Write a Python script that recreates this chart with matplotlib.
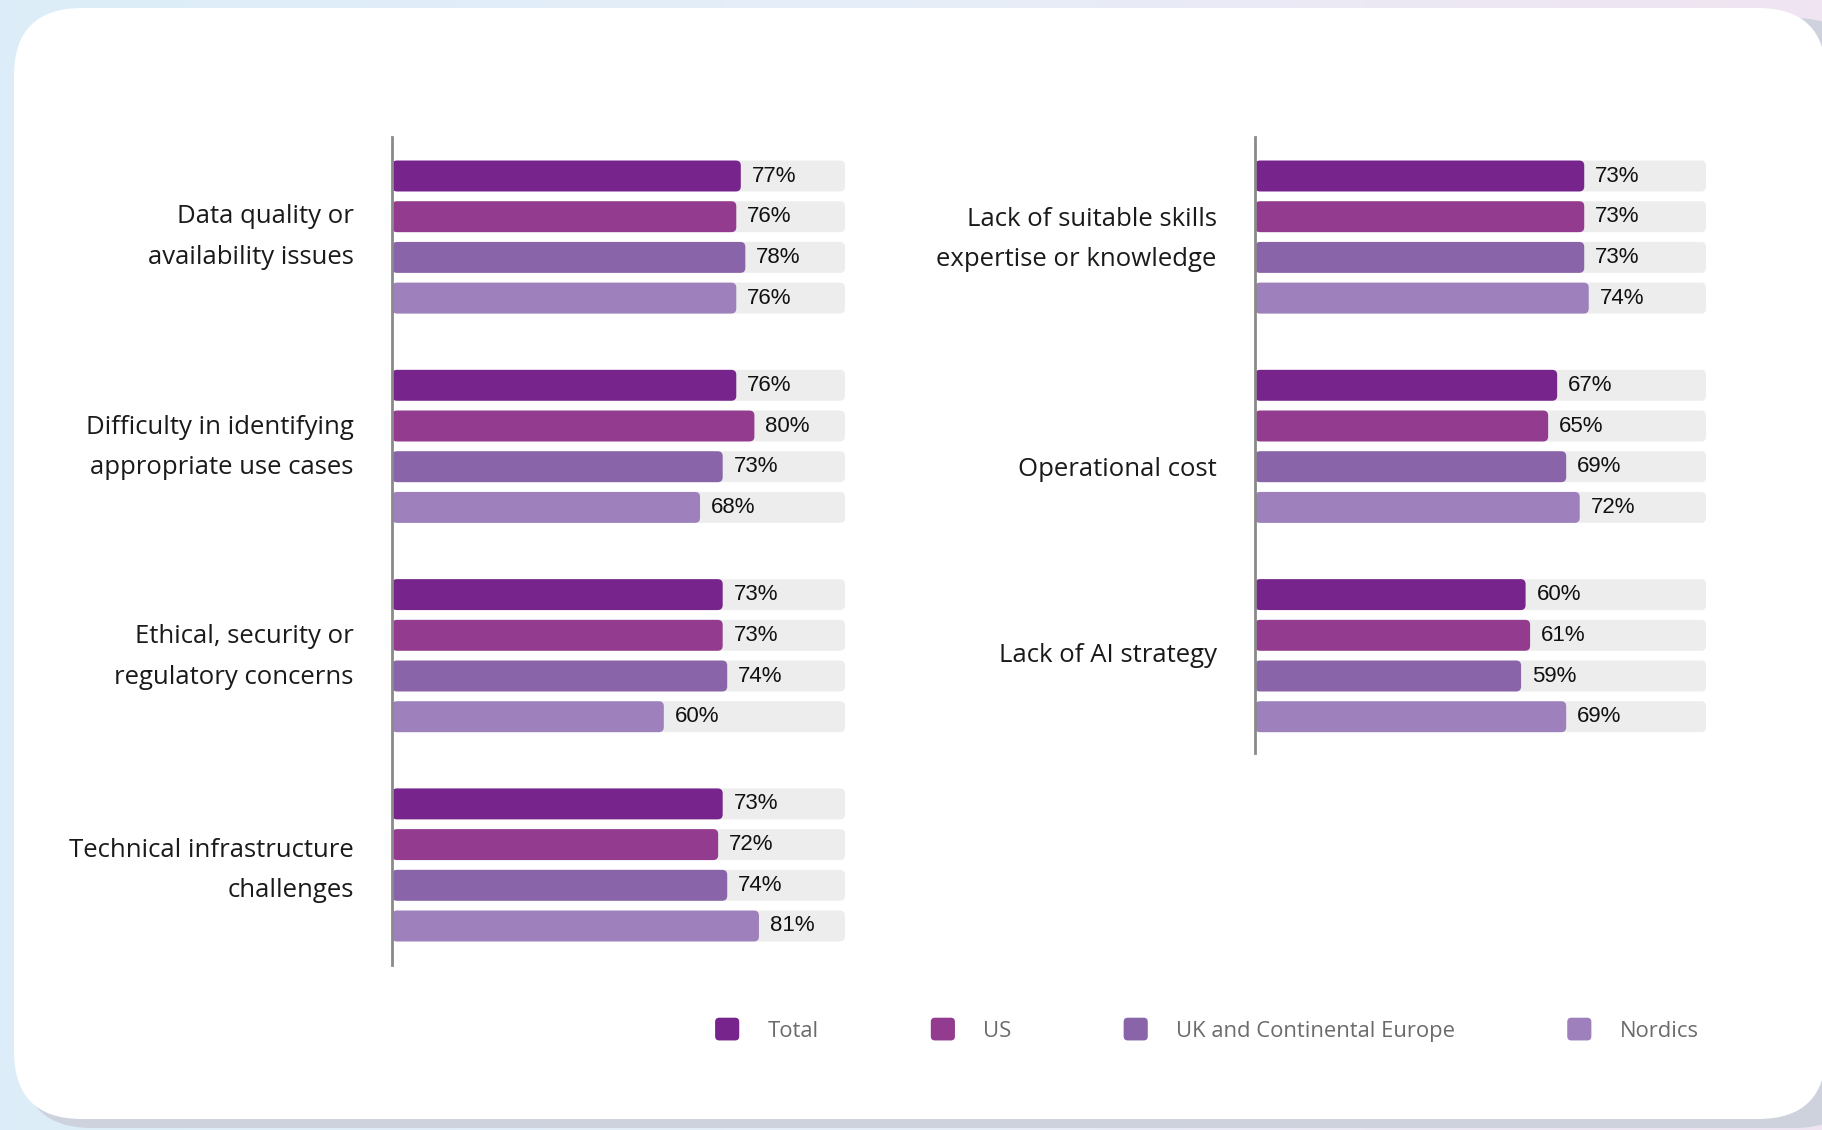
import numpy as np
import matplotlib.pyplot as plt
from matplotlib.patches import FancyBboxPatch
from matplotlib.legend_handler import HandlerPatch
from matplotlib.colors import LinearSegmentedColormap

series = ['Total', 'US', 'UK and Continental Europe', 'Nordics']
colors = ['#77258c', '#933b8f', '#8a64a8', '#9d80bc']

left_cats = ['Data quality or\navailability issues',
             'Difficulty in identifying\nappropriate use cases',
             'Ethical, security or\nregulatory concerns',
             'Technical infrastructure\nchallenges']
left_vals = [[77, 76, 78, 76],
             [76, 80, 73, 68],
             [73, 73, 74, 60],
             [73, 72, 74, 81]]

right_cats = ['Lack of suitable skills\nexpertise or knowledge',
              'Operational cost',
              'Lack of AI strategy']
right_vals = [[73, 73, 73, 74],
              [67, 65, 69, 72],
              [60, 61, 59, 69]]

W, H = 1822, 1130
fig = plt.figure(figsize=(W / 100, H / 100), dpi=100)

# background gradient + card
bg = fig.add_axes([0, 0, 1, 1], zorder=-10)
bg.set_xlim(0, W)
bg.set_ylim(H, 0)
bg.axis('off')
cmap = LinearSegmentedColormap.from_list('bg', ['#dcedf9', '#e6eef8', '#f0e4f1'])
grad = np.linspace(0, 1, 256).reshape(1, -1)
bg.imshow(grad, cmap=cmap, extent=[0, W, H, 0], aspect='auto')
bg.add_patch(FancyBboxPatch((22, 18), W + 20, 1110, boxstyle='round,pad=0,rounding_size=70',
                            fc='#cdd2dd', ec='none'))
bg.add_patch(FancyBboxPatch((14, 8), W - 10, 1111, boxstyle='round,pad=0,rounding_size=68',
                            fc='white', ec='none'))

PX = 40.7          # bar pitch in px
GROUP = 209.3 / PX  # group pitch in bar units
first_c = 176       # centre of first bar (px)
top_px = 137
ytop = (top_px - first_c) / PX


def fig_rect(x0, x1, y0, y1):
    return [x0 / W, 1 - y1 / H, (x1 - x0) / W, (y1 - y0) / H]


def rounded(ax, bars, r_px=5):
    # swap plain barh rectangles for rounded ones of the same extent
    p0 = ax.transData.transform((0, 0))
    p1 = ax.transData.transform((1, 1))
    xu = abs(p1[0] - p0[0])
    yu = abs(p1[1] - p0[1])
    r = r_px / xu
    asp = (r_px / yu) / r
    for b in bars:
        b.set_visible(False)
        ax.add_patch(FancyBboxPatch(b.get_xy(), b.get_width(), b.get_height(),
                                    boxstyle=f'round,pad=0,rounding_size={r}',
                                    mutation_aspect=asp, fc=b.get_facecolor(),
                                    ec='none', zorder=b.get_zorder()))


def panel(x0, x1, bottom_px, cats, vals, label_off):
    ax = fig.add_axes(fig_rect(x0, x1, top_px, bottom_px))
    ax.set_xlim(0, 100)
    ax.set_ylim((bottom_px - first_c) / PX, ytop)
    ax.set_facecolor('none')
    for s in ['top', 'right', 'bottom']:
        ax.spines[s].set_visible(False)
    ax.spines['left'].set_color('#8a8a8a')
    ax.spines['left'].set_linewidth(2)
    ax.set_xticks([])
    ax.set_yticks([])
    vals = np.array(vals)
    for g in range(len(cats)):
        ys = g * GROUP + np.arange(4)
        track = ax.barh(ys, 100, height=0.76, color='#ededed', zorder=1)
        rounded(ax, track)
        bars = ax.barh(ys, vals[g], height=0.76, color=colors, zorder=2)
        rounded(ax, bars)
        for y, v in zip(ys, vals[g]):
            ax.text(v + 2.4, y, f'{v}%', va='center', ha='left', fontsize=16,
                    family='Liberation Sans', color='#111111', zorder=3)
        ax.annotate(cats[g], xy=(0, g * GROUP + 1.5), xycoords=('axes fraction', 'data'),
                    xytext=(-27.5, label_off[g]), textcoords='offset points',
                    ha='right', va='center', fontsize=18.5, family='Open Sans',
                    color='#1a1a1a', linespacing=1.8)
    return ax, bars


axl, bars_l = panel(392, 845, 965, left_cats, left_vals, [0, -1, -1, -4])
axr, _ = panel(1255, 1706, 753, right_cats, right_vals, [-2, -16.5, 0])


class RoundHandler(HandlerPatch):
    def create_artists(self, legend, orig, xd, yd, w, h, fs, trans):
        p = FancyBboxPatch((-xd, -yd - 0.15 * h), w, h * 1.3,
                           boxstyle='round,pad=0,rounding_size=3',
                           fc=orig.get_facecolor(), ec='none', transform=trans)
        return [p]


handles = [plt.Rectangle((0, 0), 1, 1, fc=c) for c in colors]
leg = fig.legend(handles, series, loc='center', ncol=4,
                 bbox_to_anchor=(1207 / W, 1 - 1031 / H), frameon=False,
                 handler_map={plt.Rectangle: RoundHandler()},
                 prop={'family': 'Open Sans', 'size': 15.8},
                 handlelength=1.1, handleheight=0.85, handletextpad=1.3,
                 columnspacing=5.1)
for t in leg.get_texts():
    t.set_color('#6b6b6b')

fig.savefig('out.png', dpi=100)
